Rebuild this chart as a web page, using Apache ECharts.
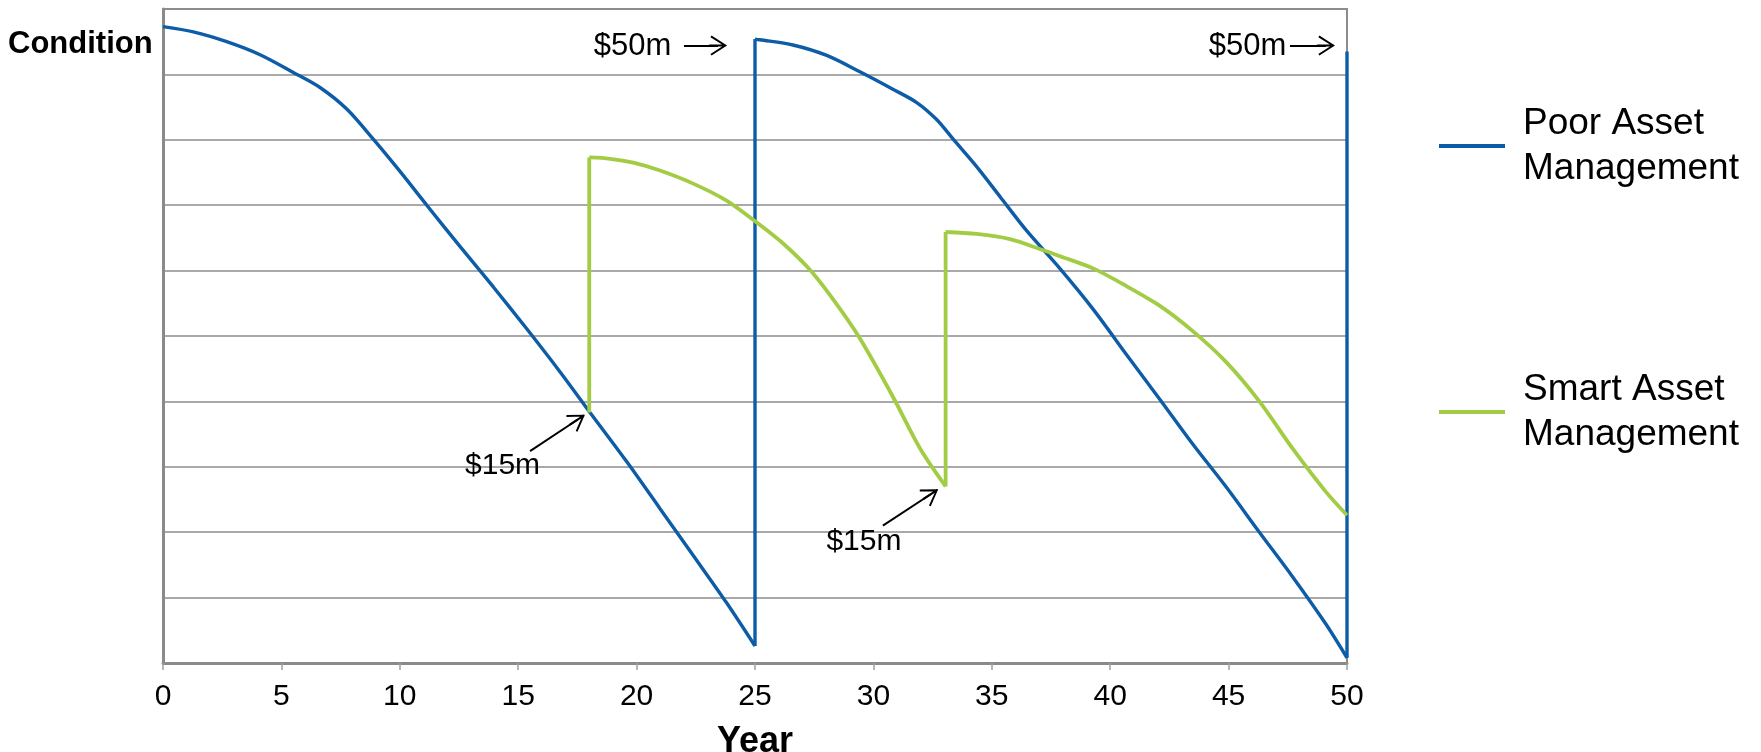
<!DOCTYPE html>
<html>
<head>
    <meta charset="utf-8">
    <title>Asset Management</title>
    <script src="https://cdn.jsdelivr.net/npm/echarts@6/dist/echarts.min.js"></script>
    <style>
        html, body { margin: 0; padding: 0; background: #fff; }
        #main { width: 1761px; height: 752px; }
    </style>
</head>
<body>
<div id="main"></div>
<script type="text/javascript">
    // x axis ticks
    var yearTicks = [0, 5, 10, 15, 20, 25, 30, 35, 40, 45, 50];

    // Poor Asset Management (blue)
    var poorYears = [0, 1.28, 2.69, 4.10, 5.50, 6.63, 7.76, 8.88, 10.0, 11.14, 12.54, 13.95, 15.36, 16.77, 17.89,
        19.58, 20.99, 22.4, 23.8, 25.0, 25.0, 25.2, 26.6, 28.03, 29.43, 30.84, 31.83, 32.67, 33.37, 34.36,
        35.35, 36.47, 37.88, 39.3, 40.7, 42.1, 43.5, 44.9, 46.3, 47.7, 49.1, 50.0, 50.0];
    var poorCondition = [9.73, 9.65, 9.50, 9.30, 9.03, 8.80, 8.47, 8.01, 7.52, 7.00, 6.37, 5.75, 5.11, 4.45, 3.90,
        3.08, 2.36, 1.64, 0.92, 0.26, 9.54, 9.53, 9.45, 9.29, 9.04, 8.77, 8.57, 8.31, 8.01, 7.59,
        7.13, 6.61, 6.03, 5.40, 4.71, 4.03, 3.34, 2.69, 2.00, 1.32, 0.60, 0.08, 9.35];

    // Smart Asset Management (green)
    var smartYears = [18.0, 18.0, 18.88, 19.86, 20.99, 22.39, 23.8, 25.2, 26.2, 27.3, 28.3, 29.4, 30.84, 31.97,
        33.05, 33.05, 34.36, 35.77, 37.18, 37.88, 39.3, 40.7, 42.1, 43.5, 44.9, 46.3, 47.7, 49.1, 50.0];
    var smartCondition = [3.83, 7.73, 7.71, 7.65, 7.53, 7.33, 7.07, 6.70, 6.41, 6.02, 5.56, 4.98, 4.06, 3.28,
        2.70, 6.59, 6.56, 6.48, 6.31, 6.22, 6.03, 5.76, 5.46, 5.07, 4.60, 4.00, 3.28, 2.62, 2.26];

    // spending notes
    var noteText = ['$50m', '$50m', '$15m', '$15m'];
    var noteYear = [19.83, 45.80, 14.34, 29.6];
    var noteCondition = [9.42, 9.42, 3.02, 1.85];
    // arrows: start / end
    var arrowFrom = [[22.0, 9.44], [47.59, 9.44], [15.50, 3.24], [30.40, 2.10]];
    var arrowTo = [[23.44, 9.44], [49.11, 9.44], [17.50, 3.72], [32.42, 2.58]];

    // split a curve into smooth pieces and the vertical jumps between them
    function pieces(xs, ys) {
        var curves = [], jumps = [], cur = [];
        for (var i = 0; i < xs.length; i++) {
            if (i > 0 && xs[i] === xs[i - 1]) {
                if (cur.length > 1) curves.push(cur);
                jumps.push([[xs[i - 1], ys[i - 1]], [xs[i], ys[i]]]);
                cur = [];
            }
            cur.push([xs[i], ys[i]]);
        }
        if (cur.length > 1) curves.push(cur);
        return { curves: curves, jumps: jumps };
    }

    var fontName = '"Liberation Sans", Arial, sans-serif';
    var arrowHead = 'path://M10,0 L20,15.5 L18.4,16.6 L10,3.4 L1.6,16.6 L0,15.5 Z M9,1 L11,1 L11,18 L9,18 Z';

    var notePoints = [];
    for (var i = 0; i < noteText.length; i++) {
        notePoints.push({
            name: noteText[i],
            coord: [noteYear[i], noteCondition[i]],
            label: { fontSize: i < 2 ? 31 : 30 }
        });
    }
    var arrowLines = [];
    for (var k = 0; k < arrowFrom.length; k++) {
        arrowLines.push([{ coord: arrowFrom[k] }, { coord: arrowTo[k] }]);
    }

    var seriesList = [];
    function addLine(name, xs, ys, color, width) {
        var p = pieces(xs, ys);
        p.curves.forEach(function (d) {
            seriesList.push({
                name: name, type: 'line', data: d, showSymbol: false, clip: false,
                smooth: 0.3,
                color: color, lineStyle: { color: color, width: width }
            });
        });
        p.jumps.forEach(function (d) {
            seriesList.push({
                name: name, type: 'line', data: d, showSymbol: false, clip: false,
                color: color, lineStyle: { color: color, width: width }
            });
        });
    }
    addLine('Poor Asset Management', poorYears, poorCondition, '#0d5ca8', 3.4);
    addLine('Smart Asset Management', smartYears, smartCondition, '#a3cc45', 3.8);

    seriesList.push({
        name: 'notes',
        type: 'line',
        data: [],
        silent: true,
        markPoint: {
            symbol: 'circle',
            symbolSize: 1,
            itemStyle: { color: 'rgba(0,0,0,0)' },
            label: {
                show: true,
                position: 'inside',
                formatter: '{b}',
                color: '#000',
                fontFamily: fontName,
                fontSize: 30
            },
            data: notePoints
        },
        markLine: {
            silent: true,
            symbol: ['none', arrowHead],
            symbolSize: [20, 18],
            label: { show: false },
            lineStyle: { color: '#000', width: 2, type: 'solid' },
            itemStyle: { color: '#000' },
            data: arrowLines
        }
    });

    var myChart = echarts.init(document.getElementById('main'));

    var option = {
        backgroundColor: '#ffffff',
        animation: false,
        textStyle: { fontFamily: fontName },
        title: {
            text: 'Condition',
            left: 8,
            top: 29,
            padding: 0,
            textStyle: { fontFamily: fontName, fontSize: 31, fontWeight: 'bold', color: '#000' }
        },
        legend: {
            orient: 'vertical',
            left: 1439,
            top: 101,
            padding: 0,
            itemGap: 176,
            itemWidth: 66,
            itemHeight: 4,
            icon: 'rect',
            data: ['Poor Asset Management', 'Smart Asset Management'],
            formatter: function (name) {
                return name.replace(' Management', '\nManagement');
            },
            textStyle: {
                fontFamily: fontName,
                fontSize: 37,
                lineHeight: 45,
                color: '#000',
                padding: [0, 0, 0, 13]
            }
        },
        grid: {
            left: 163,
            right: 414,
            top: 9,
            bottom: 89,
            outerBoundsMode: 'none',
            show: true,
            borderColor: '#8c8c8c',
            borderWidth: 2
        },
        xAxis: {
            type: 'value',
            min: 0,
            max: 50,
            interval: 5,
            name: 'Year',
            nameLocation: 'middle',
            nameGap: 79,
            nameTextStyle: {
                fontFamily: fontName, fontSize: 36, fontWeight: 'bold', color: '#000',
                verticalAlign: 'middle'
            },
            axisLine: { lineStyle: { color: '#8a8a8a', width: 3 } },
            axisTick: { show: true, length: 7, lineStyle: { color: '#a0a0a0', width: 1.5 } },
            axisLabel: {
                margin: 19,
                fontSize: 30,
                color: '#000',
                fontFamily: fontName,
                formatter: function (v) { return yearTicks.indexOf(v) >= 0 ? String(v) : ''; }
            },
            splitLine: { show: false }
        },
        yAxis: {
            type: 'value',
            min: 0,
            max: 10,
            interval: 1,
            axisLine: { show: true, lineStyle: { color: '#8a8a8a', width: 3 } },
            axisTick: { show: false },
            axisLabel: { show: false },
            splitLine: { show: true, lineStyle: { color: '#8c8c8c', width: 1.5 } }
        },
        series: seriesList
    };

    myChart.setOption(option);
</script>
</body>
</html>
